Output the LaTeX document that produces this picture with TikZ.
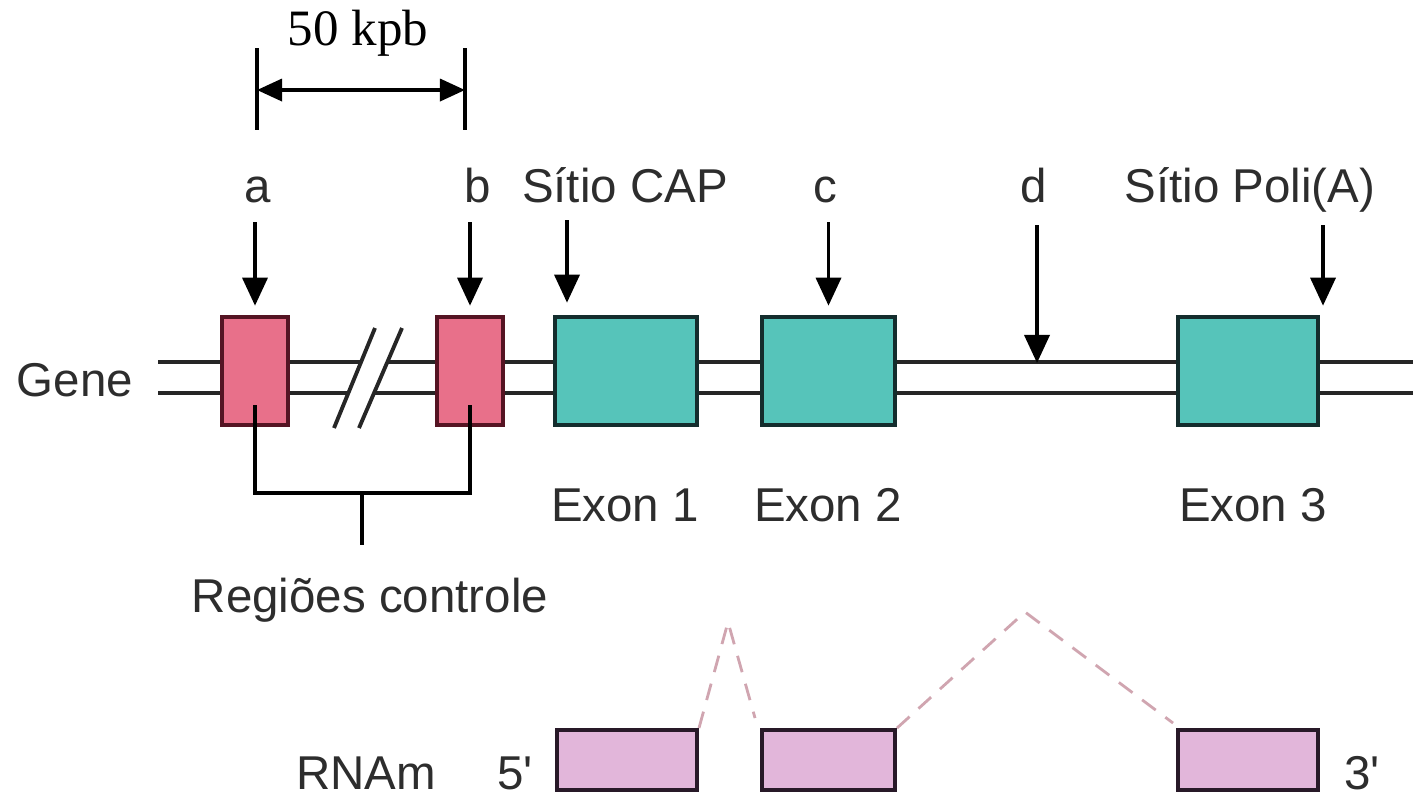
\documentclass[tikz,border=0pt]{standalone}
\usepackage{fontspec}
\setmainfont{Liberation Sans}
\newfontfamily\kpbfont{Liberation Serif}
\usepackage{xcolor}
\usetikzlibrary{arrows.meta}
\definecolor{ctrlblock}{RGB}{232, 112, 138}
\definecolor{ctrledge}{RGB}{85, 20, 35}
\definecolor{exonblock}{RGB}{86, 196, 186}
\definecolor{exonedge}{RGB}{20, 45, 45}
\definecolor{rnablock}{RGB}{226, 182, 218}
\definecolor{rnaedge}{RGB}{40, 25, 40}
\definecolor{splice}{RGB}{208, 165, 176}
\definecolor{labelgray}{RGB}{45, 45, 45}

\begin{document}
\begin{tikzpicture}[x=0.01cm, y=-0.01cm,
		lbl/.style={font=\fontsize{13.5}{16}\selectfont, text=labelgray, inner sep=0pt},
		ctrlbox/.style={draw=ctrledge, fill=ctrlblock, line width=1.3pt, minimum width=0.66cm, minimum height=1.08cm, inner sep=0pt},
		exonbox/.style={draw=exonedge, fill=exonblock, line width=1.3pt, minimum height=1.08cm, inner sep=0pt},
		rnabox/.style={draw=rnaedge, fill=rnablock, line width=1.1pt, minimum height=0.60cm, inner sep=0pt},
		strand/.style={black!85, line width=1.1pt},
		pointer/.style={-{Triangle[length=0.28cm, width=0.25cm]}, line width=1pt, shorten >=0.09cm},
		spliceline/.style={splice, line width=0.8pt, dash pattern=on 0.17cm off 0.12cm},
	]
	\useasboundingbox (0,0) rectangle (1413,800);

	% escala 50 kpb
	\node[font=\kpbfont\fontsize{14.5}{17}\selectfont, inner sep=0pt] (kpb) at (358,33) {50 kpb};
	\coordinate (kpbL) at (257,48);
	\coordinate (kpbR) at (465,48);
	\draw[line width=1pt] (kpbL) -- ++(0,82);
	\draw[line width=1pt] (kpbR) -- ++(0,82);
	\draw[{Triangle[length=0.25cm, width=0.22cm]}-{Triangle[length=0.25cm, width=0.22cm]}, line width=1pt]
		([yshift=-0.42cm]kpbL) -- ([yshift=-0.42cm]kpbR);

	% fita dupla do gene
	\coordinate (upW) at (158,362);
	\coordinate (upE) at (1413,362);
	\coordinate (loW) at (158,393);
	\coordinate (loE) at (1413,393);
	\draw[strand] (upW) -- (upE);
	\draw[strand] (loW) -- (loE);

	% quebra //
	\fill[white] (334,428) -- (375,328) -- (402,328) -- (359,428) -- cycle;
	\draw[strand] (334,428) -- (375,328);
	\draw[strand] (359,428) -- (402,328);

	% regioes controle e exons
	\node[ctrlbox] (a) at (255,371) {};
	\node[ctrlbox] (b) at (470,371) {};
	\node[exonbox, minimum width=1.42cm] (exon1) at (626,371) {};
	\node[exonbox, minimum width=1.33cm] (exon2) at (828.5,371) {};
	\node[exonbox, minimum width=1.40cm] (exon3) at (1248,371) {};

	\node[lbl] (gene) at (75,380) {Gene};

	% rotulos de cima
	\node[lbl, anchor=base] (la) at (258,202) {a};
	\node[lbl, anchor=base] (lb) at (478,202) {b};
	\node[lbl, anchor=base] (lcap) at (625,202) {Sítio CAP};
	\node[lbl, anchor=base] (lc) at (825,202) {c};
	\node[lbl, anchor=base] (ld) at (1034,202) {d};
	\node[lbl, anchor=base] (lpoli) at (1250,202) {Sítio Poli(A)};

	% setas
	\coordinate (capTop) at (567,220);
	\coordinate (dTop) at (1037,225);
	\coordinate (poliTop) at (1323,225);
	\draw[pointer] (a.north |- 0,222) -- (a.north);
	\draw[pointer] (b.north |- 0,222) -- (b.north);
	\draw[pointer, shorten >=0.12cm] (capTop) -- (capTop |- exon1.north);
	\draw[pointer] (exon2.north |- 0,222) -- (exon2.north);
	\draw[pointer, shorten >=-0.01cm] (dTop) -- (dTop |- upE);
	\draw[pointer] (poliTop) -- (poliTop |- exon3.north);

	% chave das regioes controle
	\coordinate (stem) at (362,545);
	\draw[line width=1pt] (a.center |- 0,405) -- (a.center |- 0,493) -| (b.center |- 0,405);
	\draw[line width=1pt] (stem |- 0,493) -- (stem);
	\node[lbl] (ctrl) at (370,600) {Regiões controle};

	\node[lbl] (ex1) at (625,505) {Exon 1};
	\node[lbl] (ex2) at (828,505) {Exon 2};
	\node[lbl] (ex3) at (1253,505) {Exon 3};

	% RNAm
	\node[rnabox, minimum width=1.40cm] (rna1) at (627,760) {};
	\node[rnabox, minimum width=1.33cm] (rna2) at (828.5,760) {};
	\node[rnabox, minimum width=1.40cm] (rna3) at (1248,760) {};
	\node[lbl] (rnam) at (366,773) {RNAm};
	\node[lbl] (five) at (515,773) {5\textquotesingle};
	\node[lbl] (three) at (1362,773) {3\textquotesingle};

	% splicing
	\coordinate (peak1) at (728,622);
	\coordinate (peak2) at (1025,612);
	\draw[spliceline] (rna1.north east) -- (peak1) -- ([xshift=-0.05cm, yshift=0.1cm]rna2.north west);
	\draw[spliceline] (rna2.north east) -- (peak2) -- ([xshift=-0.03cm, yshift=0.05cm]rna3.north west);

\end{tikzpicture}
\end{document}
